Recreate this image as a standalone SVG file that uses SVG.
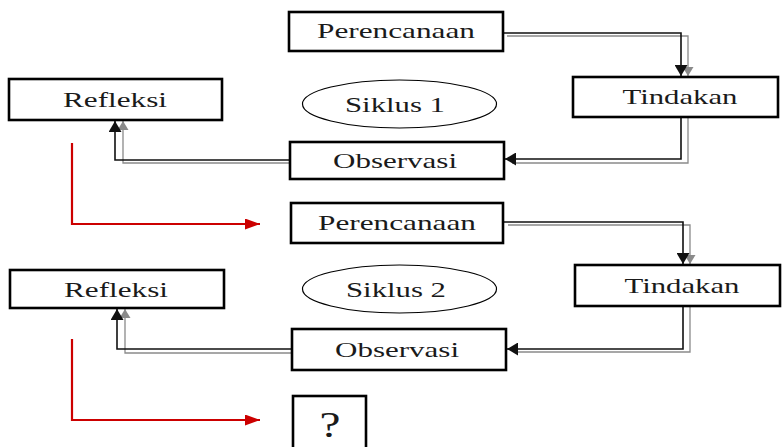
<svg xmlns="http://www.w3.org/2000/svg" width="782" height="447" viewBox="0 0 782 447">
<style>
.box{fill:#fff;stroke:#000;stroke-width:2.6}
.ell{fill:#fff;stroke:#000;stroke-width:1.2}
.t{font-family:"Liberation Serif","Times New Roman",serif;font-size:22px;fill:#1a1a1a;text-anchor:middle}
.blk{fill:none;stroke:#111;stroke-width:1.6}
.gry{fill:none;stroke:#8a8a8a;stroke-width:1.3}
.red{fill:none;stroke:#cc0000;stroke-width:2.2}
</style>
<defs>
<marker id="ab" viewBox="0 0 10 10" refX="10" refY="5" markerWidth="11" markerHeight="13" markerUnits="userSpaceOnUse" orient="auto" preserveAspectRatio="none"><path d="M0,0 L10,5 L0,10 z" fill="#111"/></marker>
<marker id="ag" viewBox="0 0 10 10" refX="10" refY="5" markerWidth="9" markerHeight="11" markerUnits="userSpaceOnUse" orient="auto" preserveAspectRatio="none"><path d="M0,0 L10,5 L0,10 z" fill="#8a8a8a"/></marker>
<marker id="ar" viewBox="0 0 10 10" refX="10" refY="5" markerWidth="15" markerHeight="11" markerUnits="userSpaceOnUse" orient="auto" preserveAspectRatio="none"><path d="M0,0 L10,5 L0,10 z" fill="#cc0000"/></marker>
</defs>
<rect width="782" height="447" fill="#fff"/>
<g id="connectors">
<polyline class="gry" points="507,36 688,36 688,76" marker-end="url(#ag)"/>
<polyline class="blk" points="503,33 681,33 681,76" marker-end="url(#ab)"/>
<polyline class="gry" points="688,118 688,163 512,163"/>
<polyline class="blk" points="681,118 681,159 505,159" marker-end="url(#ab)"/>
<polyline class="gry" points="299,163 123,163 123,121" marker-end="url(#ag)"/>
<polyline class="blk" points="291,160 115,160 115,121" marker-end="url(#ab)"/>
<polyline class="red" points="72,143 72,224 260,224" marker-end="url(#ar)"/>
<polyline class="gry" points="508,225 690,225 690,264" marker-end="url(#ag)"/>
<polyline class="blk" points="503,222 683,222 683,264" marker-end="url(#ab)"/>
<polyline class="gry" points="690,307 690,352 514,352"/>
<polyline class="blk" points="683,307 683,349 507,349" marker-end="url(#ab)"/>
<polyline class="gry" points="300,353 125,353 125,309" marker-end="url(#ag)"/>
<polyline class="blk" points="292,349 117,349 117,309" marker-end="url(#ab)"/>
<polyline class="red" points="72,339 72,420 260,420" marker-end="url(#ar)"/>
</g>
<g id="perencanaan1"><rect class="box" x="289" y="12" width="214" height="39"/><text class="t" x="396" y="38" textLength="158" lengthAdjust="spacingAndGlyphs">Perencanaan</text></g>
<g id="tindakan1"><rect class="box" x="573" y="77" width="205" height="40"/><text class="t" x="680" y="104" textLength="115" lengthAdjust="spacingAndGlyphs">Tindakan</text></g>
<g id="refleksi1"><rect class="box" x="9" y="79" width="213" height="41"/><text class="t" x="115" y="107" textLength="104" lengthAdjust="spacingAndGlyphs">Refleksi</text></g>
<g id="observasi1"><rect class="box" x="290" y="142" width="214" height="37"/><text class="t" x="395" y="168" textLength="124" lengthAdjust="spacingAndGlyphs">Observasi</text></g>
<g id="siklus1"><ellipse class="ell" cx="399.5" cy="104" rx="97" ry="24"/><text class="t" x="395" y="112" textLength="100" lengthAdjust="spacingAndGlyphs">Siklus 1</text></g>
<g id="perencanaan2"><rect class="box" x="291" y="203" width="212" height="40"/><text class="t" x="397" y="230" textLength="158" lengthAdjust="spacingAndGlyphs">Perencanaan</text></g>
<g id="tindakan2"><rect class="box" x="575" y="265" width="205" height="41"/><text class="t" x="682" y="293" textLength="115" lengthAdjust="spacingAndGlyphs">Tindakan</text></g>
<g id="refleksi2"><rect class="box" x="10" y="270" width="214" height="38"/><text class="t" x="116" y="297" textLength="104" lengthAdjust="spacingAndGlyphs">Refleksi</text></g>
<g id="observasi2"><rect class="box" x="292" y="329" width="214" height="41"/><text class="t" x="397" y="357" textLength="124" lengthAdjust="spacingAndGlyphs">Observasi</text></g>
<g id="siklus2"><ellipse class="ell" cx="399.5" cy="289" rx="97" ry="24"/><text class="t" x="396" y="297" textLength="100" lengthAdjust="spacingAndGlyphs">Siklus 2</text></g>
<g id="tanya"><rect class="box" x="293" y="396" width="73" height="60"/><text class="t" x="330" y="437" style="font-size:36px" textLength="21" lengthAdjust="spacingAndGlyphs">?</text></g>
</svg>
